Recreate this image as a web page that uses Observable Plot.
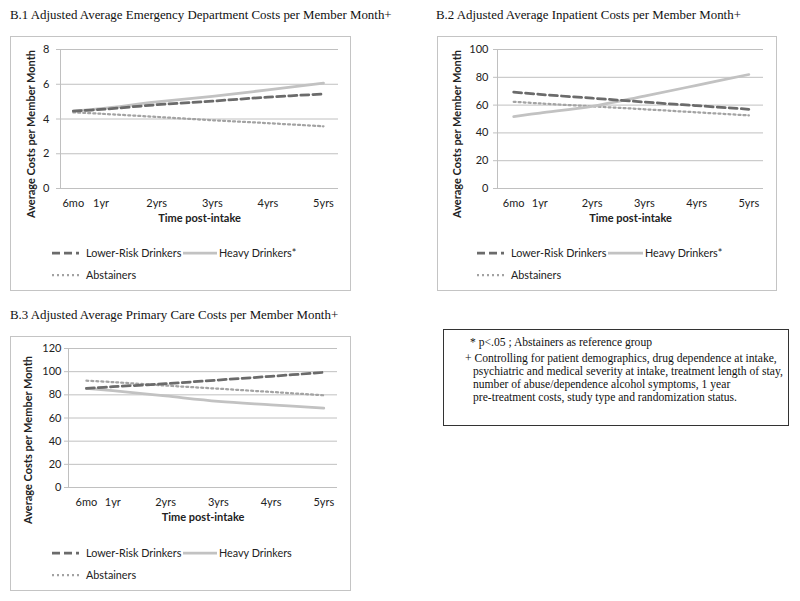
<!DOCTYPE html>
<html>
<head>
<meta charset="utf-8">
<script src="https://cdn.jsdelivr.net/npm/d3@7"></script>
<script src="https://cdn.jsdelivr.net/npm/@observablehq/plot@0.6"></script>
<style>
  html, body { margin: 0; padding: 0; background: #fff; }
  #root { position: relative; width: 800px; height: 601px; overflow: hidden; background: #fff; }
  .title { position: absolute; font-family: "Liberation Serif", "Times New Roman", serif; font-size: 12.9px; line-height: 16px; color: #111; white-space: nowrap; }
  .frame { position: absolute; border: 1px solid #c4c4c4; box-sizing: border-box; }
  .plotwrap { position: absolute; }
  .leg { position: absolute; font-family: Lato, sans-serif; font-size: 10.8px; line-height: 14px; color: #222; white-space: nowrap; }
  .legsvg { position: absolute; }
  .note { position: absolute; left: 443px; top: 329px; width: 346px; height: 97px; border: 1.5px solid #333; box-sizing: border-box; }
  .noteline { position: absolute; font-family: "Liberation Serif", "Times New Roman", serif; font-size: 11.6px; line-height: 13px; color: #111; white-space: nowrap; }
</style>
</head>
<body>
<div id="root"></div>
<script>
// ---------------- data ----------------
const years = [0.5, 1, 2, 3, 4, 5];
const xTickLabels = ["6mo", "1yr", "2yrs", "3yrs", "4yrs", "5yrs"];

const edLowerRisk  = [4.46, 4.55, 4.82, 5.03, 5.26, 5.44];
const edHeavy      = [4.46, 4.60, 4.98, 5.30, 5.68, 6.07];
const edAbstainers = [4.38, 4.30, 4.12, 3.93, 3.76, 3.58];

const ipLowerRisk  = [69.4, 67.7, 65.0, 62.2, 59.6, 57.0];
const ipHeavy      = [51.7, 54.3, 59.1, 66.5, 74.2, 82.0];
const ipAbstainers = [62.4, 61.2, 59.1, 57.0, 54.8, 52.6];

const pcLowerRisk  = [85.6, 87.0, 89.6, 92.8, 96.0, 99.4];
const pcHeavy      = [85.6, 83.6, 79.0, 74.4, 71.4, 68.5];
const pcAbstainers = [92.2, 91.0, 88.0, 85.3, 82.5, 79.6];

const edTicks = [0, 2, 4, 6, 8];
const ipTicks = [0, 20, 40, 60, 80, 100];
const pcTicks = [0, 20, 40, 60, 80, 100, 120];

const titles = [
  "B.1 Adjusted Average Emergency Department Costs per Member Month+",
  "B.2 Adjusted Average Inpatient Costs per Member Month+",
  "B.3 Adjusted Average Primary Care Costs per Member Month+"
];
const yAxisTitle = "Average Costs per Member Month";
const xAxisTitle = "Time post-intake";
const legendNames = [
  ["Lower-Risk Drinkers", "Heavy Drinkers*", "Abstainers"],
  ["Lower-Risk Drinkers", "Heavy Drinkers*", "Abstainers"],
  ["Lower-Risk Drinkers", "Heavy Drinkers", "Abstainers"]
];
const noteLines = [
  "* p<.05 ; Abstainers as reference group",
  "+ Controlling for patient demographics, drug dependence at intake,",
  "psychiatric and medical severity at intake, treatment length of stay,",
  "number of abuse/dependence alcohol symptoms, 1 year",
  "pre-treatment costs, study type and randomization status."
];

// ---------------- styles ----------------
const styles = {
  lr:   {stroke: "#6b6b6b", strokeWidth: 2.75, strokeDasharray: "8,4"},
  hv:   {stroke: "#c2c2c2", strokeWidth: 2.75, strokeDasharray: null},
  ab:   {stroke: "#a3a3a3", strokeWidth: 2.25, strokeDasharray: "2,3"}
};
const gridColor = "#c0c0c0";

const root = document.getElementById("root");

function addDiv(cls, css, text) {
  const d = document.createElement("div");
  d.className = cls;
  Object.assign(d.style, css);
  if (text != null) d.textContent = text;
  root.appendChild(d);
  return d;
}

function rows(lr, hv, ab) {
  return years.map((yr, i) => ({yr, lr: lr[i], hv: hv[i], ab: ab[i]}));
}

function panel(cfg) {
  const data = rows(cfg.lr, cfg.hv, cfg.ab);
  const line = (key) => Plot.line(data, {
    x: "yr", y: key, curve: "catmull-rom",
    stroke: styles[key].stroke, strokeWidth: styles[key].strokeWidth,
    strokeDasharray: styles[key].strokeDasharray || undefined
  });
  const svg = Plot.plot({
    width: cfg.width, height: 200,
    marginLeft: cfg.ml, marginRight: cfg.mr, marginTop: cfg.mt, marginBottom: 200 - cfg.mt - 139,
    style: "font-family: Lato, sans-serif; font-size: 11px; color: #222; background: none; overflow: visible;",
    x: {domain: cfg.xDomain},
    y: {domain: [cfg.yTicks[0], cfg.yTicks[cfg.yTicks.length - 1]]},
    marks: [
      Plot.ruleY(cfg.yTicks, {stroke: gridColor, strokeWidth: 1, insetLeft: -4}),
      Plot.ruleX([cfg.xDomain[0]], {stroke: gridColor, strokeWidth: 1}),
      Plot.axisY({ticks: cfg.yTicks, tickSize: 0, tickPadding: cfg.tickPad, label: null, fontSize: 11}),
      Plot.axisX({ticks: years, tickFormat: (d) => xTickLabels[years.indexOf(d)], tickSize: 0, tickPadding: 11, label: null, fontSize: 11}),
      Plot.text([yAxisTitle], {frameAnchor: "left", textAnchor: "middle", rotate: -90, dx: cfg.ylDx, dy: cfg.ylDy, fontWeight: "bold", fontSize: 11}),
      Plot.text([xAxisTitle], {frameAnchor: "bottom", dy: 33, fontWeight: "bold", fontSize: 11}),
      line("ab"),
      line("hv"),
      line("lr")
    ]
  });
  const wrap = addDiv("plotwrap", {left: cfg.left + "px", top: cfg.top + "px"});
  wrap.appendChild(svg);
}

function legendSample(key, x1, x2, y) {
  const ns = "http://www.w3.org/2000/svg";
  const s = document.createElementNS(ns, "svg");
  s.setAttribute("class", "legsvg");
  s.setAttribute("width", x2 - x1);
  s.setAttribute("height", 8);
  s.style.left = x1 + "px";
  s.style.top = (y - 4) + "px";
  const l = document.createElementNS(ns, "line");
  l.setAttribute("x1", 0); l.setAttribute("x2", x2 - x1);
  l.setAttribute("y1", 4); l.setAttribute("y2", 4);
  l.setAttribute("stroke", styles[key].stroke);
  l.setAttribute("stroke-width", styles[key].strokeWidth);
  if (styles[key].strokeDasharray) l.setAttribute("stroke-dasharray", styles[key].strokeDasharray);
  s.appendChild(l);
  root.appendChild(s);
}

function legend(names, ox, row1, row2, hvSampleX1, hvSampleX2, hvTextX) {
  legendSample("lr", ox + 52, ox + 79, row1);
  addDiv("leg", {left: (ox + 86) + "px", top: (row1 - 7) + "px"}, names[0]);
  legendSample("hv", hvSampleX1, hvSampleX2, row1);
  addDiv("leg", {left: hvTextX + "px", top: (row1 - 7) + "px"}, names[1]);
  legendSample("ab", ox + 52, ox + 79, row2);
  addDiv("leg", {left: (ox + 86) + "px", top: (row2 - 7) + "px"}, names[2]);
}

// titles
addDiv("title", {left: "10px", top: "7px"}, titles[0]);
addDiv("title", {left: "436px", top: "7px"}, titles[1]);
addDiv("title", {left: "10px", top: "307px"}, titles[2]);

// frames
addDiv("frame", {left: "10px", top: "36px", width: "341px", height: "255px"});
addDiv("frame", {left: "437px", top: "36px", width: "340px", height: "255px"});
addDiv("frame", {left: "10px", top: "336px", width: "341px", height: "255px"});

// panels
panel({lr: edLowerRisk, hv: edHeavy, ab: edAbstainers, yTicks: edTicks,
  left: 10, top: 36, width: 340, ml: 50, mr: 12, mt: 13,
  xDomain: [0.27, 5.27], tickPad: 11, ylDx: -29, ylDy: 15});
panel({lr: ipLowerRisk, hv: ipHeavy, ab: ipAbstainers, yTicks: ipTicks,
  left: 437, top: 36, width: 339, ml: 60, mr: 13, mt: 13,
  xDomain: [0.19, 5.28], tickPad: 9, ylDx: -40, ylDy: 15});
panel({lr: pcLowerRisk, hv: pcHeavy, ab: pcAbstainers, yTicks: pcTicks,
  left: 10, top: 336, width: 340, ml: 58, mr: 13, mt: 12,
  xDomain: [0.16, 5.26], tickPad: 7, ylDx: -40, ylDy: 22});

// legends
legend(legendNames[0], 0, 253, 275, 183, 217, 219);
legend(legendNames[1], 425, 253, 275, 608, 643, 645);
legend(legendNames[2], 0, 553, 575, 183, 217, 219);

// note box
addDiv("note", {});
const noteX = [470, 465, 473, 473, 473];
const noteY = [343, 359, 372, 385, 398];
noteLines.forEach((t, i) => addDiv("noteline", {left: noteX[i] + "px", top: (noteY[i] - 7) + "px"}, t));
</script>
</body>
</html>
